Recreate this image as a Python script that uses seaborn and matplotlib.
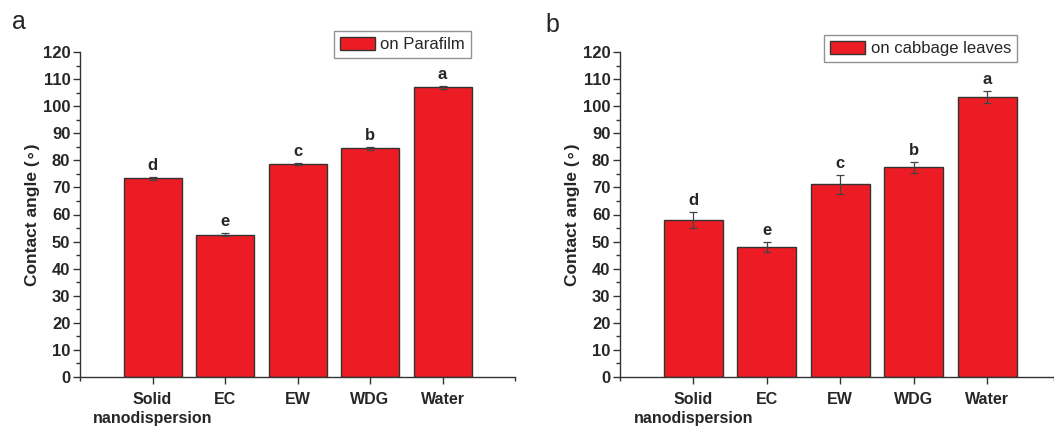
import numpy as np
import pandas as pd
import seaborn as sns
import matplotlib.pyplot as plt
from matplotlib.ticker import MultipleLocator, FixedLocator
from matplotlib.patches import Patch

categories = ["Solid\nnanodispersion", "EC", "EW", "WDG", "Water"]
parafilm_mean = [73.3, 52.5, 78.6, 84.4, 106.9]
parafilm_err = [0.5, 0.5, 0.3, 0.4, 0.6]
parafilm_letters = ["d", "e", "c", "b", "a"]
cabbage_mean = [58.0, 47.9, 71.1, 77.5, 103.4]
cabbage_err = [2.9, 1.8, 3.6, 2.0, 2.3]
cabbage_letters = ["d", "e", "c", "b", "a"]

sns.set_theme(style="ticks")
plt.rcParams['font.family'] = ['Liberation Sans', 'DejaVu Sans']

RED = "#ED1C24"
W, H = 1054, 429
fig = plt.figure(figsize=(W / 100, H / 100), dpi=100)

def fx(px):
    return px / W

def fy(py):
    return 1 - py / H

ax_a = fig.add_axes([fx(80), fy(377), fx(515) - fx(80), fy(52) - fy(377)])
ax_b = fig.add_axes([fx(620), fy(377), fx(1054) - fx(620), fy(52) - fy(377)])

def draw(ax, means, errs, letters, label, xmax, legend_anchor):
    df = pd.DataFrame({"cat": categories, "val": means})
    sns.barplot(data=df, x="cat", y="val", ax=ax, color=RED, saturation=1,
                width=0.8, edgecolor="#333333", linewidth=1.0)
    ax.errorbar(np.arange(len(means)), means, yerr=errs, fmt="none",
                ecolor="#444444", elinewidth=0.9, capsize=3, capthick=0.9)
    for i, (m, e, l) in enumerate(zip(means, errs, letters)):
        ax.annotate(l, xy=(i, m + e), xytext=(0, 3), textcoords="offset points",
                    ha="center", va="bottom", fontsize=12, fontweight="bold")
    ax.set_xlim(-1, xmax)
    ax.set_ylim(0, 120)
    ax.yaxis.set_major_locator(MultipleLocator(10))
    ax.yaxis.set_minor_locator(MultipleLocator(5))
    ax.xaxis.set_minor_locator(FixedLocator([-1, xmax]))
    for s in ["top", "right"]:
        ax.spines[s].set_visible(False)
    for s in ["left", "bottom"]:
        ax.spines[s].set_color("#333333")
        ax.spines[s].set_linewidth(1.0)
    ax.tick_params(axis="both", which="major", direction="out", length=5,
                   width=1.0, color="#333333", labelsize=12, pad=2)
    ax.tick_params(axis="both", which="minor", direction="out", length=3,
                   width=1.0, color="#333333")
    ax.tick_params(axis="x", which="major", pad=6, labelsize=11.5)
    for t in ax.get_xticklabels():
        t.set_fontweight("bold")
        t.set_linespacing(1.3)
    for t in ax.get_yticklabels():
        t.set_fontweight("bold")
    ax.set_xlabel("")
    ax.set_ylabel("Contact angle (∘)", fontsize=12.5, fontweight="bold", labelpad=2)
    handle = Patch(facecolor=RED, edgecolor="#333333", linewidth=1.0)
    leg = ax.legend([handle], [label], loc="upper right",
                    bbox_to_anchor=legend_anchor, bbox_transform=fig.transFigure,
                    fancybox=False, frameon=True, fontsize=12,
                    handlelength=2.1, handleheight=0.85, borderpad=0.35,
                    handletextpad=0.35, borderaxespad=0)
    leg.get_frame().set_edgecolor("#777777")
    leg.get_frame().set_linewidth(1.0)

draw(ax_a, parafilm_mean, parafilm_err, parafilm_letters, "on Parafilm", 5.0,
     (fx(471), fy(31)))
draw(ax_b, cabbage_mean, cabbage_err, cabbage_letters, "on cabbage leaves", 4.91,
     (fx(1017), fy(35)))

fig.text(fx(12), fy(22), "a", fontsize=18, ha="left", va="center")
fig.text(fx(545), fy(25), "b", fontsize=18, ha="left", va="center")

fig.savefig("out.png", dpi=100)
